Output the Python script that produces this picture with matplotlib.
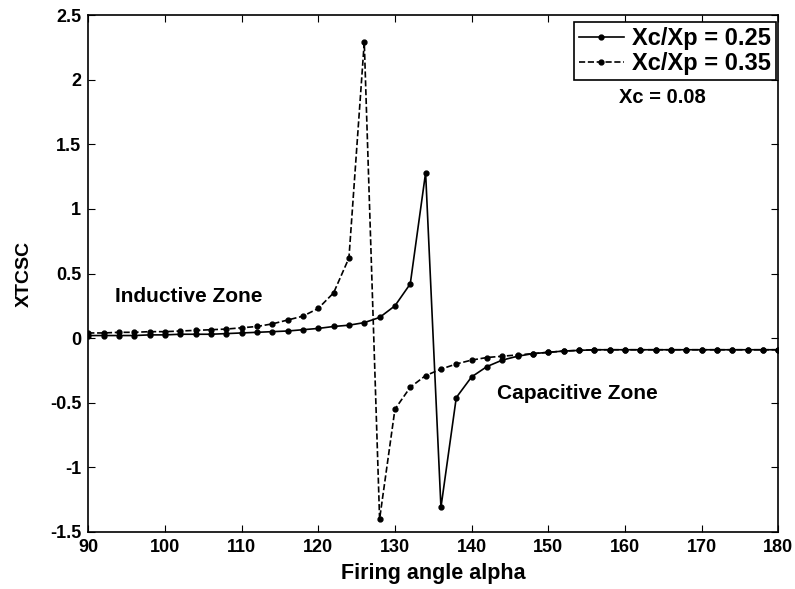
import matplotlib.pyplot as plt

plt.rcParams['font.family'] = ['Liberation Sans', 'DejaVu Sans']
plt.rcParams['font.weight'] = 'bold'

alpha = list(range(90, 181, 2))

# Xc/Xp = 0.25 (solid)
xtcsc_025 = [0.02, 0.02, 0.02, 0.02, 0.025, 0.025, 0.03, 0.03, 0.03, 0.035,
             0.04, 0.045, 0.05, 0.055, 0.065, 0.075, 0.09, 0.1, 0.12, 0.16,
             0.25, 0.42, 1.28, -1.31, -0.46, -0.3, -0.22, -0.17, -0.14, -0.12,
             -0.11, -0.1, -0.095, -0.09, -0.09, -0.09, -0.09, -0.09, -0.09, -0.09,
             -0.09, -0.09, -0.09, -0.09, -0.09, -0.09]

# Xc/Xp = 0.35 (dashed)
xtcsc_035 = [0.04, 0.04, 0.045, 0.045, 0.05, 0.05, 0.055, 0.06, 0.065, 0.07,
             0.08, 0.09, 0.11, 0.14, 0.17, 0.23, 0.35, 0.62, 2.29, -1.4,
             -0.55, -0.38, -0.29, -0.24, -0.2, -0.17, -0.15, -0.14, -0.13, -0.12,
             -0.11, -0.1, -0.095, -0.09, -0.09, -0.09, -0.09, -0.09, -0.09, -0.09,
             -0.09, -0.09, -0.09, -0.09, -0.09, -0.09]

fig = plt.figure(figsize=(7.95, 5.89), dpi=100)
ax = fig.add_axes([0.111, 0.0968, 0.868, 0.8777])

ax.plot(alpha, xtcsc_025, 'k-', marker='.', markersize=7, linewidth=1.2,
        label='Xc/Xp = 0.25')
ax.plot(alpha, xtcsc_035, 'k--', marker='.', markersize=7, linewidth=1.2,
        label='Xc/Xp = 0.35')

ax.set_xlim(90, 180)
ax.set_ylim(-1.5, 2.5)
ax.set_xticks(range(90, 181, 10))
ax.set_yticks([-1.5, -1, -0.5, 0, 0.5, 1, 1.5, 2, 2.5])
ax.set_yticklabels(['-1.5', '-1', '-0.5', '0', '0.5', '1', '1.5', '2', '2.5'])
ax.tick_params(direction='in', top=True, right=True, length=5, pad=5, labelsize=13)
for s in ax.spines.values():
    s.set_linewidth(1.2)

ax.set_xlabel('Firing angle alpha', fontsize=15.5, fontweight='bold', labelpad=5)
ax.set_ylabel('XTCSC', fontsize=14, fontweight='bold', labelpad=12)

ax.text(93.5, 0.32, 'Inductive Zone', fontsize=15, fontweight='bold', va='center')
ax.text(143.3, -0.43, 'Capacitive Zone', fontsize=15, fontweight='bold', va='center')
ax.text(164.9, 1.86, 'Xc = 0.08', fontsize=14.5, fontweight='bold', ha='center', va='center')

leg = ax.legend(loc='upper right', bbox_to_anchor=(0.996, 0.986), borderaxespad=0,
                fontsize=17, handlelength=1.9, fancybox=False, edgecolor='black',
                framealpha=1, borderpad=0.2, labelspacing=0.1, handletextpad=0.35)
leg.get_frame().set_linewidth(1.2)

fig.savefig('out.png', dpi=100)
